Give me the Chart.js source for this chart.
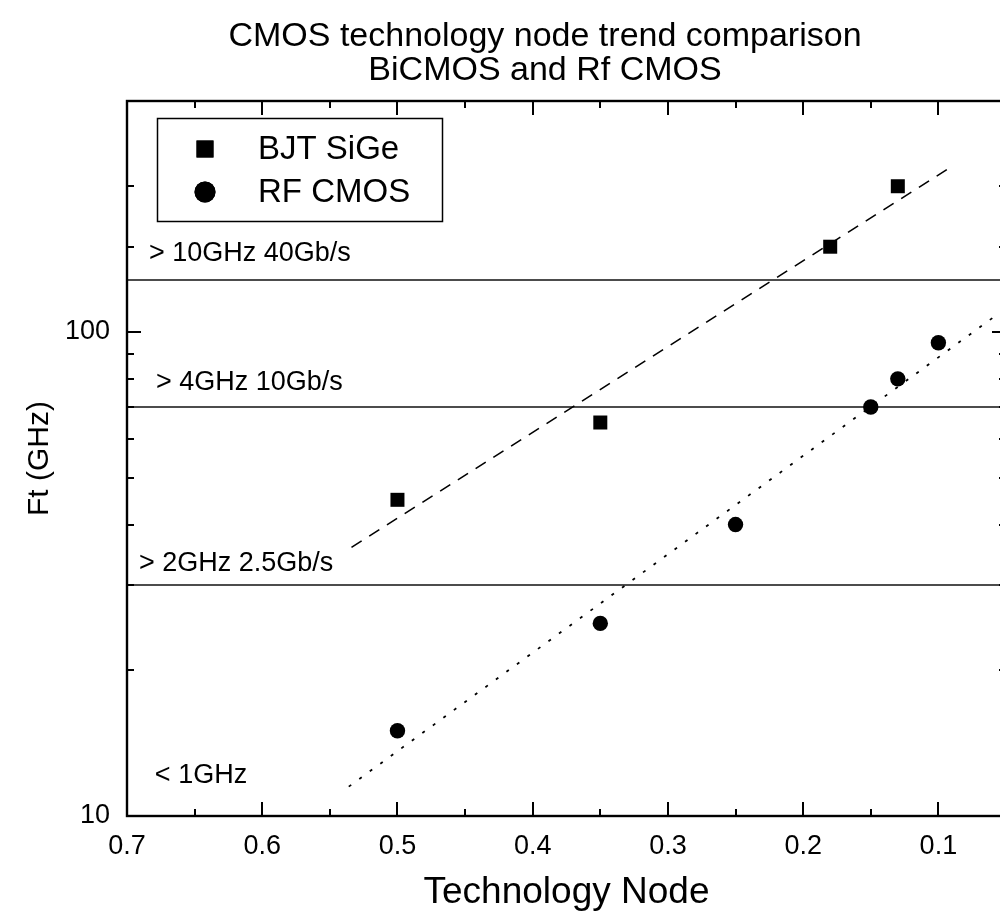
<!DOCTYPE html>
<html>
<head>
<meta charset="utf-8">
<title>CMOS technology node trend comparison</title>
<script src="https://cdn.jsdelivr.net/npm/chart.js@4.4.0/dist/chart.umd.min.js"></script>
<style>
  html, body { margin: 0; padding: 0; background: #fff; overflow: hidden; width: 1000px; height: 918px; }
  #wrap { position: relative; width: 1020px; height: 918px; }
</style>
</head>
<body>
<div id="wrap">
  <canvas id="chart" width="1020" height="918"></canvas>
</div>
<script>
// technology node (um) and Ft (GHz)
const sigeNode = [0.5, 0.35, 0.18, 0.13];
const sigeFt = [45, 65, 150, 200];
const cmosNode = [0.5, 0.35, 0.25, 0.15, 0.13, 0.1];
const cmosFt = [15, 25, 40, 70, 80, 95];

// trend lines (end points)
const sigeTrendNode = [0.534, 0.092];
const sigeTrendFt = [35.9, 218];
const cmosTrendNode = [0.536, 0.05];
const cmosTrendFt = [11.5, 112];

// band limits and their captions
const bandLimits = [128, 70, 30];
const bandLabels = ["> 10GHz 40Gb/s", "> 4GHz 10Gb/s", "> 2GHz 2.5Gb/s", "< 1GHz"];
const bandLabelNode = [0.6838, 0.6786, 0.6912, 0.6794];
const bandLabelFt = [140, 76, 32, 11.7];

const xTickLabels = ["0.7", "0.6", "0.5", "0.4", "0.3", "0.2", "0.1"];
const yTickLabels = ["10", "100"];
const titleLines = ["CMOS technology node trend comparison", "BiCMOS and Rf CMOS"];

const FONT = "'Liberation Sans', Arial, sans-serif";

function toPoints(xs, ys) {
  return xs.map((v, i) => ({ x: v, y: ys[i] }));
}

const datasets = [
  {
    label: "BJT SiGe",
    data: toPoints(sigeNode, sigeFt),
    pointStyle: "rect",
    pointRadius: 9.9,
    backgroundColor: "#000",
    borderColor: "#000",
    borderWidth: 0,
    showLine: false,
    inLegend: true,
    legendSize: 12
  },
  {
    label: "RF CMOS",
    data: toPoints(cmosNode, cmosFt),
    pointStyle: "circle",
    pointRadius: 7.7,
    backgroundColor: "#000",
    borderColor: "#000",
    borderWidth: 0,
    showLine: false,
    inLegend: true,
    legendSize: 10.5
  },
  {
    label: "SiGe trend",
    data: toPoints(sigeTrendNode, sigeTrendFt),
    showLine: true,
    pointRadius: 0,
    borderColor: "#000",
    borderWidth: 1.6,
    borderDash: [12, 9]
  },
  {
    label: "CMOS trend",
    data: toPoints(cmosTrendNode, cmosTrendFt),
    showLine: true,
    pointRadius: 0,
    borderColor: "#000",
    borderWidth: 1.8,
    borderDash: [3, 10]
  }
];

// horizontal band limits across the whole plot
bandLimits.forEach(v => {
  datasets.push({
    label: "limit " + v,
    data: [{ x: 0.7, y: v }, { x: 0.05, y: v }],
    showLine: true,
    pointRadius: 0,
    borderColor: "#111",
    borderWidth: 1.6
  });
});

function isTenth(v) {
  return Math.abs(v * 10 - Math.round(v * 10)) < 1e-6;
}
function isDecade(v) {
  const l = Math.log10(v);
  return Math.abs(l - Math.round(l)) < 1e-6;
}

// frame with inward ticks on all four sides
const frameTicks = {
  id: "frameTicks",
  afterDatasetsDraw(chart) {
    const { ctx, chartArea: a, scales } = chart;
    const x = scales.x, y = scales.y;
    ctx.save();
    ctx.strokeStyle = "#000";
    ctx.lineWidth = 2;
    ctx.lineCap = "butt";
    ctx.beginPath();
    x.ticks.forEach(t => {
      const px = Math.round(x.getPixelForValue(t.value));
      const len = isTenth(t.value) ? 14 : 7;
      ctx.moveTo(px, a.bottom); ctx.lineTo(px, a.bottom - len);
      ctx.moveTo(px, a.top); ctx.lineTo(px, a.top + len);
    });
    y.ticks.forEach(t => {
      const py = Math.round(y.getPixelForValue(t.value));
      const len = isDecade(t.value) ? 14 : 7;
      ctx.moveTo(a.left, py); ctx.lineTo(a.left + len, py);
      ctx.moveTo(a.right, py); ctx.lineTo(a.right - len, py);
    });
    ctx.stroke();
    ctx.lineWidth = 2.4;
    ctx.strokeRect(a.left, a.top, a.right - a.left, a.bottom - a.top);

    // band captions
    ctx.fillStyle = "#000";
    ctx.font = "27px " + FONT;
    ctx.textAlign = "left";
    ctx.textBaseline = "alphabetic";
    bandLabels.forEach((txt, i) => {
      ctx.fillText(txt, x.getPixelForValue(bandLabelNode[i]), y.getPixelForValue(bandLabelFt[i]));
    });
    ctx.restore();
  }
};

// legend box inside the plot, top left, plus the two-line title
const boxLegend = {
  id: "boxLegend",
  afterDraw(chart) {
    const { ctx } = chart;
    const items = chart.data.datasets.filter(d => d.inLegend);
    ctx.save();
    ctx.fillStyle = "#fff";
    ctx.fillRect(157, 118, 285, 103);
    ctx.strokeStyle = "#000";
    ctx.lineWidth = 1.5;
    ctx.strokeRect(157.5, 118.5, 285, 103);
    ctx.font = "33px " + FONT;
    ctx.textBaseline = "middle";
    ctx.textAlign = "left";
    items.forEach((d, i) => {
      const cy = 149 + i * 43;
      ctx.fillStyle = "#000";
      Chart.helpers.drawPoint(ctx, { pointStyle: d.pointStyle, radius: d.legendSize, borderWidth: 0 }, 205, cy);
      ctx.fill();
      ctx.fillText(d.label, 258, cy + 1);
    });

    ctx.font = "34px " + FONT;
    ctx.textAlign = "center";
    ctx.textBaseline = "alphabetic";
    titleLines.forEach((t, i) => ctx.fillText(t, 545, 46 + i * 34));
    ctx.restore();
  }
};

new Chart(document.getElementById("chart"), {
  type: "scatter",
  data: { datasets: datasets },
  options: {
    responsive: false,
    animation: false,
    layout: { padding: { left: 0, right: 11, top: 101, bottom: 0 } },
    plugins: {
      legend: { display: false },
      tooltip: { enabled: false },
      title: { display: false }
    },
    scales: {
      x: {
        type: "linear",
        reverse: true,
        min: 0.05,
        max: 0.7,
        afterFit(scale) { scale.height = 102; },
        grid: { display: false, drawTicks: false },
        border: { display: false },
        ticks: {
          stepSize: 0.05,
          autoSkip: false,
          maxRotation: 0,
          padding: 14,
          color: "#000",
          font: { family: FONT, size: 27 },
          callback: v => {
            if (!isTenth(v)) return "";
            const s = v.toFixed(1);
            return xTickLabels.includes(s) ? s : "";
          }
        },
        title: {
          display: true,
          text: "Technology Node",
          color: "#000",
          font: { family: FONT, size: 37 },
          padding: { top: 0, bottom: 2.8 }
        }
      },
      y: {
        type: "logarithmic",
        min: 10,
        max: 300,
        afterFit(scale) { scale.width = 127; },
        grid: { display: false, drawTicks: false },
        border: { display: false },
        ticks: {
          autoSkip: false,
          padding: 17,
          color: "#000",
          font: { family: FONT, size: 27 },
          callback: v => yTickLabels.includes(String(v)) ? String(v) : ""
        },
        title: {
          display: true,
          text: "Ft (GHz)",
          color: "#000",
          font: { family: FONT, size: 30 },
          padding: { top: 22, bottom: 0 }
        }
      }
    }
  },
  plugins: [frameTicks, boxLegend]
});
</script>
</body>
</html>
